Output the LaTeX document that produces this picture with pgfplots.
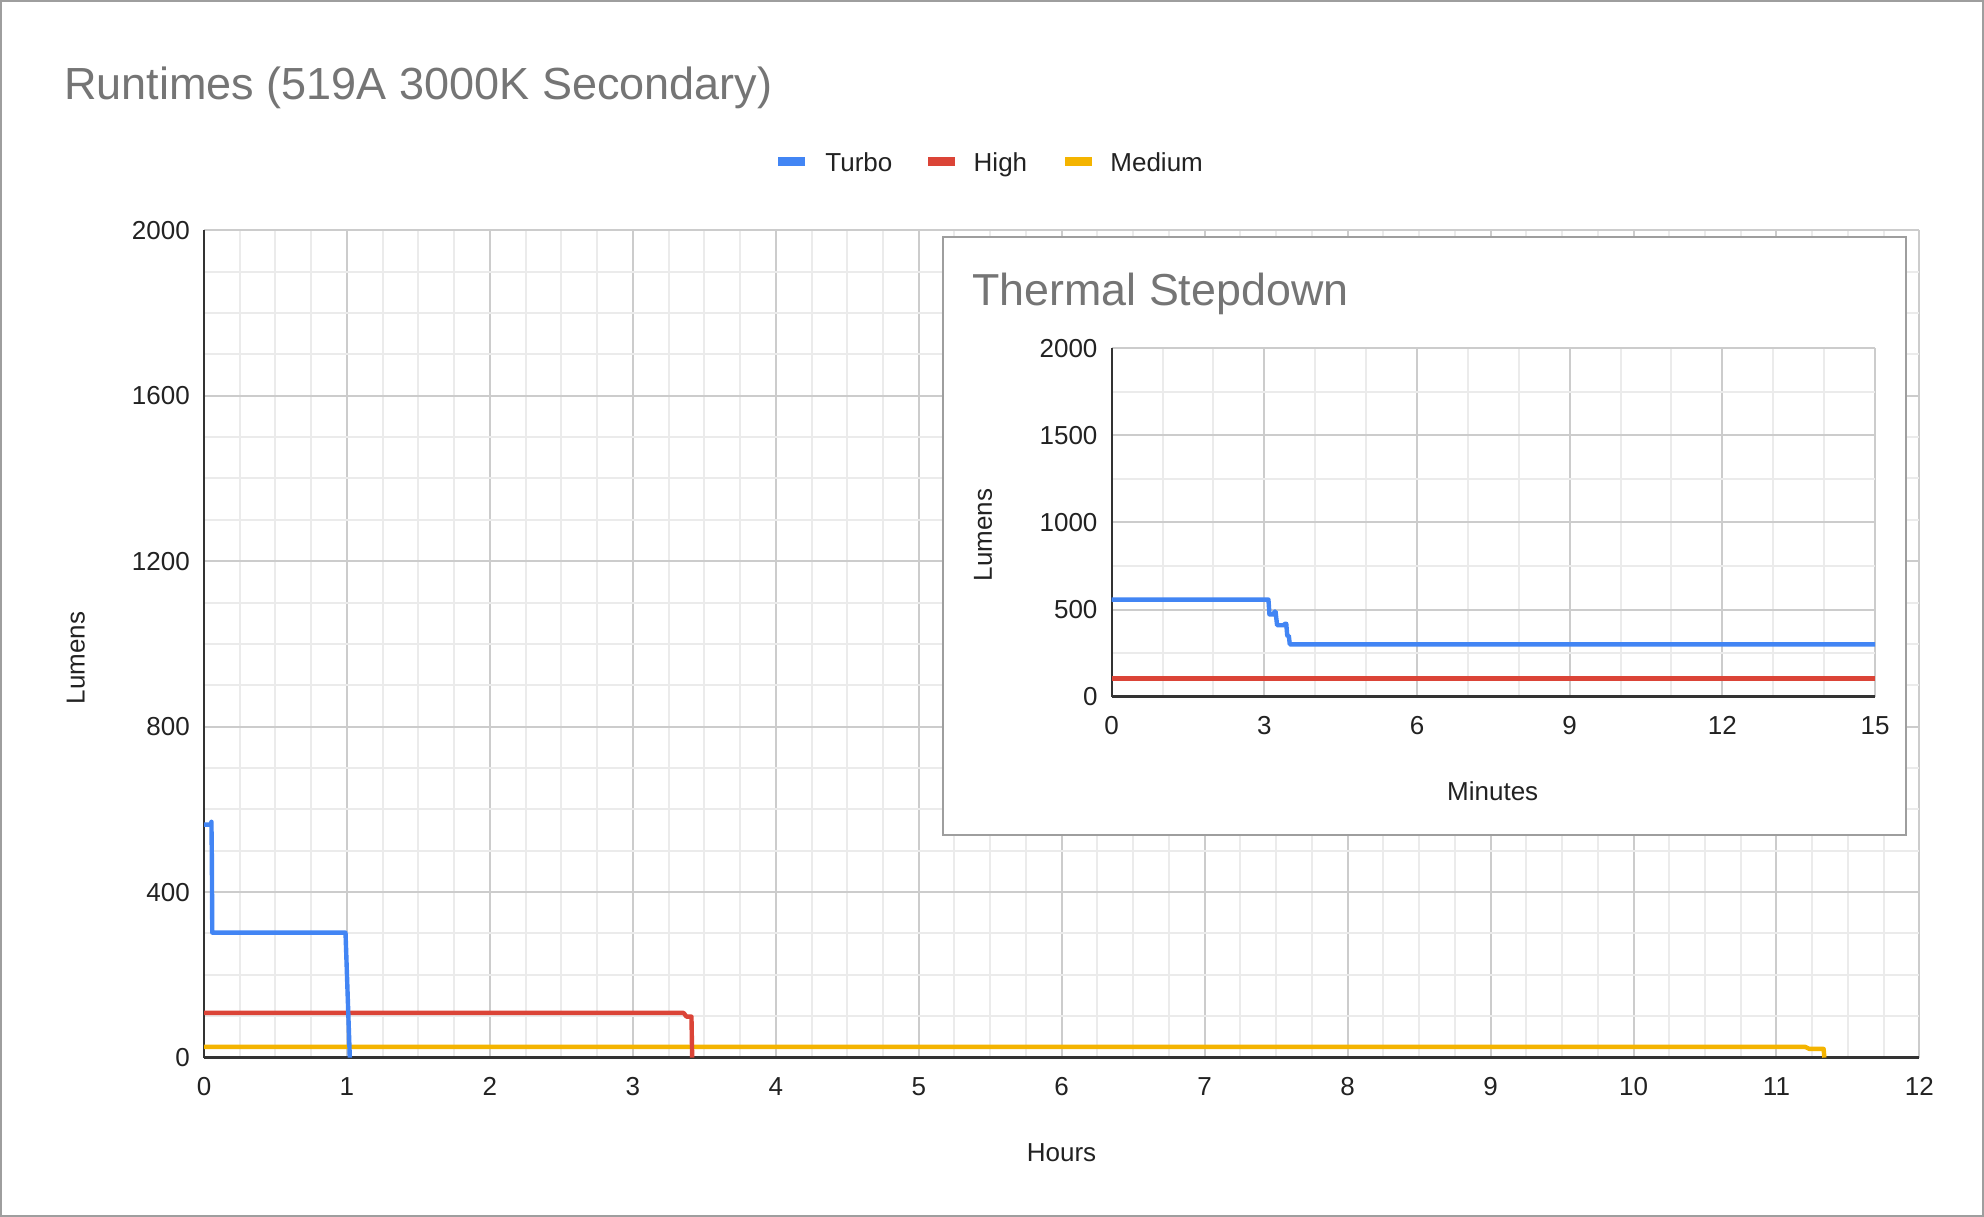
\documentclass[border=0pt]{standalone}
\usepackage{fontspec}
\setmainfont{Liberation Sans}
\usepackage{pgfplots}
\pgfplotsset{compat=1.18}
\definecolor{cTurbo}{HTML}{4285F4}
\definecolor{cHigh}{HTML}{DB4437}
\definecolor{cMed}{HTML}{F4B400}
\definecolor{gmaj}{HTML}{CCCCCC}
\definecolor{gmin}{HTML}{EBEBEB}
\definecolor{ttl}{HTML}{757575}
\definecolor{txt}{HTML}{222222}
\definecolor{axl}{HTML}{333333}
\definecolor{bord}{HTML}{9E9E9E}
\pgfplotsset{googl/.style={
  scale only axis, anchor=south west,
  axis x line=bottom, axis y line=left,
  axis line style={-, draw=axl, line width=1.2bp},
  enlargelimits=false, clip=false,
  tick style={draw=none},
  grid=both,
  major grid style={draw=gmaj, line width=1bp},
  minor grid style={draw=gmin, line width=1bp},
  tick label style={font=\fontsize{13bp}{15bp}\selectfont, text=txt},
  /pgf/number format/assume math mode=true,
  /pgf/number format/1000 sep={},
  yticklabel style={anchor=east, inner sep=0pt, xshift=-4.8bp},
  xticklabel style={anchor=base, inner sep=0pt, yshift=-16.7bp},
  every axis plot/.append style={line width=2.2bp, line join=round, mark=none},
}}
\begin{document}
\begin{tikzpicture}
\useasboundingbox (0,0) rectangle (992bp,608.5bp);
\fill[white] (0,0) rectangle (992bp,608.5bp);
\draw[bord, line width=1bp] (0.5bp,0.5bp) rectangle (991.5bp,608bp);
% title
\node[anchor=base west, text=ttl, font=\fontsize{22.5bp}{26bp}\selectfont, inner sep=0] at (32bp,558.6bp) {Runtimes (519A 3000K Secondary)};
% legend
\fill[cTurbo] (389.15bp,525.25bp) rectangle (402.5bp,529.75bp);
\node[anchor=base west, text=txt, font=\fontsize{13bp}{15bp}\selectfont, inner sep=0] at (412.5bp,522.6bp) {Turbo};
\fill[cHigh] (464.15bp,525.25bp) rectangle (477.5bp,529.75bp);
\node[anchor=base west, text=txt, font=\fontsize{13bp}{15bp}\selectfont, inner sep=0] at (486.65bp,522.6bp) {High};
\fill[cMed] (532.5bp,525.25bp) rectangle (545.85bp,529.75bp);
\node[anchor=base west, text=txt, font=\fontsize{13bp}{15bp}\selectfont, inner sep=0] at (555bp,522.6bp) {Medium};
% main axis
\begin{axis}[googl, at={(102bp,79.7bp)}, width=857.7bp, height=413.7bp,
  xmin=0, xmax=12, ymin=0, ymax=2000,
  xtick={0,1,...,12}, ytick={0,400,...,2000},
  minor x tick num=3, minor y tick num=3]
\addplot[cMed] coordinates {(0,26) (11.2,26) (11.23,21) (11.33,21) (11.335,0)};
\addplot[cHigh] coordinates {(0,108) (3.355,108) (3.375,99) (3.41,99) (3.415,0)};
\addplot[cTurbo] coordinates {(0,563) (0.05,563) (0.052,570) (0.055,480) (0.057,350) (0.058,302) (0.99,302) (1.02,0)};
\end{axis}
\node[rotate=90, text=txt, font=\fontsize{13bp}{15bp}\selectfont] at (37.95bp,279.6bp) {Lumens};
\node[text=txt, font=\fontsize{13bp}{15bp}\selectfont] at (530.75bp,32bp) {Hours};
% inset
\fill[white] (471.35bp,191bp) rectangle (952.9bp,489.85bp);
\draw[bord, line width=1bp] (471.35bp,191bp) rectangle (952.9bp,489.85bp);
\node[anchor=base west, text=ttl, font=\fontsize{22.4bp}{26bp}\selectfont, inner sep=0] at (486bp,455.5bp) {Thermal Stepdown};
\begin{axis}[googl, at={(555.85bp,260.15bp)}, width=381.65bp, height=174.3bp,
  xmin=0, xmax=15, ymin=0, ymax=2000,
  xtick={0,3,...,15}, ytick={0,500,...,2000},
  minor x tick num=2, minor y tick num=1]
\addplot[cHigh] coordinates {(0,104) (15,104)};
\addplot[cTurbo] coordinates {(0,557) (3.08,557) (3.1,472) (3.18,472) (3.2,488) (3.22,488) (3.25,410) (3.38,410) (3.4,418) (3.43,418) (3.45,350) (3.48,350) (3.5,300) (15,300)};
\end{axis}
\node[rotate=90, text=txt, font=\fontsize{13bp}{15bp}\selectfont] at (491.5bp,341bp) {Lumens};
\node[text=txt, font=\fontsize{13bp}{15bp}\selectfont] at (746.35bp,213bp) {Minutes};
\end{tikzpicture}
\end{document}
